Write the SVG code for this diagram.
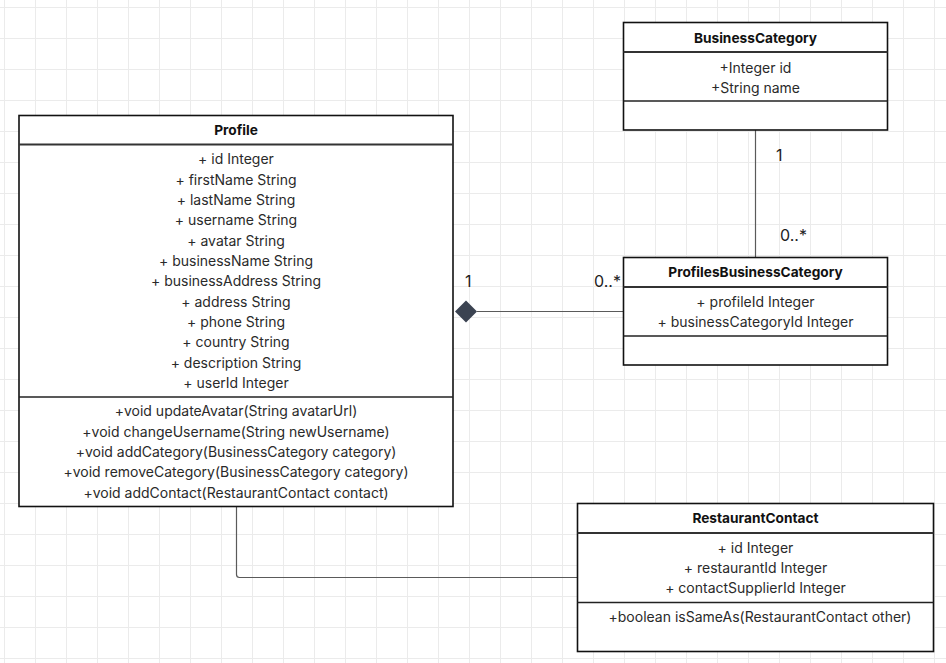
<svg xmlns="http://www.w3.org/2000/svg" width="946" height="663" viewBox="0 0 946 663">
  <defs>
    <pattern id="grid" x="4" y="7" width="31" height="31" patternUnits="userSpaceOnUse">
      <path d="M0.5 0 V31 M0 0.5 H31" fill="none" stroke="#ebebeb" stroke-width="1"/>
    </pattern>
    <style>
      .box { fill: #ffffff; stroke: #111111; stroke-width: 1.6; }
      .hsep { stroke: #333333; stroke-width: 2; }
      .sep { stroke: #222222; stroke-width: 1.4; }
      .title { font-family: Inter, "Liberation Sans", sans-serif; font-size: 13.7px; font-weight: 700; fill: #111111; text-anchor: middle; }
      .attr { font-family: Inter, "Liberation Sans", sans-serif; font-size: 14px; fill: #2a2a2a; text-anchor: middle; }
      .mult { font-family: Inter, "Liberation Sans", sans-serif; font-size: 16px; fill: #222222; }
      .conn { fill: none; stroke: #5a5a5a; stroke-width: 1.2; }
    </style>
  </defs>

  <rect width="946" height="663" fill="#ffffff"/>
  <rect width="946" height="663" fill="url(#grid)"/>

  <!-- connectors -->
  <g id="connectors">
    <line class="conn" x1="755.5" y1="130" x2="755.5" y2="257.5"/>
    <line class="conn" x1="477" y1="311.5" x2="623.5" y2="311.5"/>
    <polygon points="455,311.5 466,300.5 477,311.5 466,322.5" fill="#3b4351"/>
    <path class="conn" d="M236.5 507 V574.5 Q236.5 577.5 239.5 577.5 H577.5"/>
    <text class="mult" x="776" y="161">1</text>
    <text class="mult" x="780" y="241">0..*</text>
    <text class="mult" x="465" y="287">1</text>
    <text class="mult" x="594" y="287">0..*</text>
  </g>

  <!-- Profile -->
  <g id="profile">
    <rect class="box" x="19" y="115.5" width="434" height="391"/>
    <line class="hsep" x1="19" y1="144.5" x2="453" y2="144.5"/>
    <line class="sep" x1="19" y1="397" x2="453" y2="397"/>
    <text class="title" x="236" y="135">Profile</text>
    <text class="attr" x="236" y="164">+ id Integer</text>
    <text class="attr" x="236" y="185">+ firstName String</text>
    <text class="attr" x="236" y="205">+ lastName String</text>
    <text class="attr" x="236" y="225">+ username String</text>
    <text class="attr" x="236" y="246">+ avatar String</text>
    <text class="attr" x="236" y="266">+ businessName String</text>
    <text class="attr" x="236" y="286">+ businessAddress String</text>
    <text class="attr" x="236" y="307">+ address String</text>
    <text class="attr" x="236" y="327">+ phone String</text>
    <text class="attr" x="236" y="347">+ country String</text>
    <text class="attr" x="236" y="368">+ description String</text>
    <text class="attr" x="236" y="388">+ userId Integer</text>
    <text class="attr" x="236" y="416">+void updateAvatar(String avatarUrl)</text>
    <text class="attr" x="236" y="437">+void changeUsername(String newUsername)</text>
    <text class="attr" x="236" y="457">+void addCategory(BusinessCategory category)</text>
    <text class="attr" x="236" y="477">+void removeCategory(BusinessCategory category)</text>
    <text class="attr" x="236" y="498">+void addContact(RestaurantContact contact)</text>
  </g>

  <!-- BusinessCategory -->
  <g id="business-category">
    <rect class="box" x="623.5" y="22.5" width="264" height="107.5"/>
    <line class="hsep" x1="623.5" y1="52" x2="887.5" y2="52"/>
    <line class="sep" x1="623.5" y1="101" x2="887.5" y2="101"/>
    <text class="title" x="755.5" y="43">BusinessCategory</text>
    <text class="attr" x="755.5" y="73">+Integer id</text>
    <text class="attr" x="755.5" y="93">+String name</text>
  </g>

  <!-- ProfilesBusinessCategory -->
  <g id="profiles-business-category">
    <rect class="box" x="623.5" y="257.5" width="264" height="107.5"/>
    <line class="hsep" x1="623.5" y1="287" x2="887.5" y2="287"/>
    <line class="sep" x1="623.5" y1="336" x2="887.5" y2="336"/>
    <text class="title" x="755.5" y="277">ProfilesBusinessCategory</text>
    <text class="attr" x="755.5" y="307">+ profileId Integer</text>
    <text class="attr" x="755.5" y="327">+ businessCategoryId Integer</text>
  </g>

  <!-- RestaurantContact -->
  <g id="restaurant-contact">
    <rect class="box" x="577.5" y="503.5" width="356" height="148"/>
    <line class="hsep" x1="577.5" y1="533" x2="933.5" y2="533"/>
    <line class="sep" x1="577.5" y1="602.5" x2="933.5" y2="602.5"/>
    <text class="title" x="755.5" y="523">RestaurantContact</text>
    <text class="attr" x="755.5" y="553">+ id Integer</text>
    <text class="attr" x="755.5" y="573">+ restaurantId Integer</text>
    <text class="attr" x="755.5" y="593">+ contactSupplierId Integer</text>
    <text class="attr" x="760" y="622">+boolean isSameAs(RestaurantContact other)</text>
  </g>
</svg>
